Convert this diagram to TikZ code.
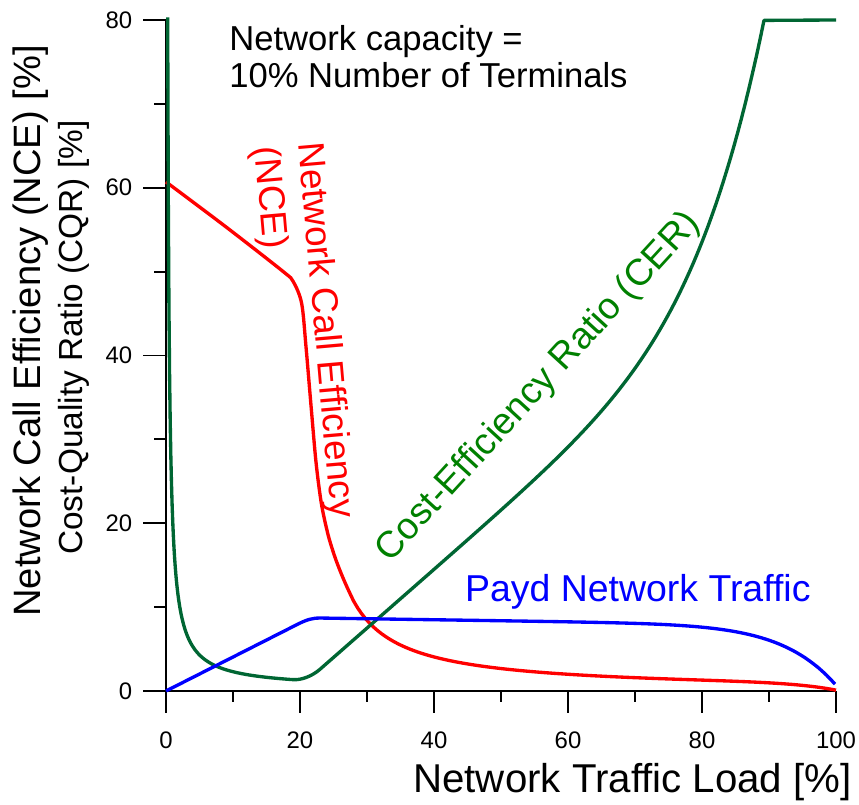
\documentclass[tikz,border=0pt]{standalone}
\usepackage{fontspec}
\setmainfont{Liberation Sans}
\definecolor{cergreen}{RGB}{0,102,51}
\definecolor{labelgreen}{RGB}{0,128,0}

\begin{document}
\begin{tikzpicture}[x=0.134cm,y=0.16775cm,
        axis/.style={line width=1.1pt},
        curve/.style={line width=1.9pt,line join=round},
        ticklabel/.style={inner sep=0pt,font=\fontsize{13.6}{16}\selectfont},
        biglabel/.style={inner sep=0pt,font=\fontsize{21.3}{25}\selectfont}]
    \useasboundingbox (-24.776,-13.472) rectangle (103.433,82.384);

    % axes
    \draw[axis] (0,80) -- (0,0) -- (100,0);
    \draw[axis] (0,0) -- (-3.43,0) (0,20) -- (-3.43,20) (0,40) -- (-3.43,40)
                (0,60) -- (-3.43,60) (0,80) -- (-3.43,80);
    \draw[axis] (0,10) -- (-1.79,10) (0,30) -- (-1.79,30) (0,50) -- (-1.79,50) (0,70) -- (-1.79,70);
    \draw[axis] (0,0) -- (0,-2.62) (20,0) -- (20,-2.62) (40,0) -- (40,-2.62)
                (60,0) -- (60,-2.62) (80,0) -- (80,-2.62) (100,0) -- (100,-2.62);
    \draw[axis] (10,0) -- (10,-1.31) (30,0) -- (30,-1.31) (50,0) -- (50,-1.31)
                (70,0) -- (70,-1.31) (90,0) -- (90,-1.31);

    \node[ticklabel,anchor=east] (y0) at (-5.0,0) {0};
    \node[ticklabel,anchor=east] (y20) at (-5.0,20) {20};
    \node[ticklabel,anchor=east] (y40) at (-5.0,40) {40};
    \node[ticklabel,anchor=east] (y60) at (-5.0,60) {60};
    \node[ticklabel,anchor=east] (y80) at (-5.0,80) {80};
    \node[ticklabel] (x0) at (0,-5.84) {0};
    \node[ticklabel] (x20) at (20,-5.84) {20};
    \node[ticklabel] (x40) at (40,-5.84) {40};
    \node[ticklabel] (x60) at (60,-5.84) {60};
    \node[ticklabel] (x80) at (80,-5.84) {80};
    \node[ticklabel] (x100) at (100,-5.84) {100};

    \node[biglabel,font=\fontsize{22.9}{26}\selectfont,anchor=base east] (xtitle) at (102.4,-12.12)
        {Network Traffic Load [\%]};
    \node[biglabel,font=\fontsize{21.7}{25}\selectfont,rotate=90,anchor=base west] (ytitle)
        at (-18.8,8.82) {Network Call Efficiency (NCE) [\%]};
    \node[biglabel,font=\fontsize{19}{23}\selectfont,rotate=90,anchor=base west] (ytitlecqr)
        at (-12.39,16.21) {Cost-Quality Ratio (CQR) [\%]};

    % note
    \node[inner sep=0pt,font=\fontsize{19.7}{21}\selectfont,align=left,anchor=north west] (capnote)
        at (9.4,79.4) {Network capacity =\\10\% Number of Terminals};

    % NCE
    \draw[curve,red] plot[smooth] coordinates {(0,60.7) (9,55.3) (17.5,50.0) (19.0,48.8) (20.25,46.2)
        (20.9,41.0) (21.7,33.5) (22.4,27.2) (23.2,22.3) (24.2,18.6) (25.2,16.0) (26.1,14.1)
        (27,12.42) (28,10.72)}
        -- plot[domain=28:100,samples=120] (\x,{78.5/(\x-20.68)-0.89*(\x/100)^16.3});
    \node[biglabel,font=\fontsize{21}{25}\selectfont,rotate=-85,align=left,anchor=north west,text=red]
        (nce) at (23.8,65.6) {Network Call Efficiency\\(NCE)};

    % CER
    \draw[curve,cergreen] plot[domain=0.25:19,samples=200] (\x,{20/\x+0.3})
        .. controls (20.2,1.29) and (21.8,1.76) .. (23,2.6)
        -- plot[domain=23:89.25,samples=120] (\x,{0.7*(\x-20)+0.5+33.5*((\x-20)/70)^7.2})
        -- (100,80);
    \node[biglabel,font=\fontsize{21.2}{25}\selectfont,rotate=47.5,text=labelgreen] (cer)
        at (55.6,36.2) {Cost-Efficiency Ratio (CER)};

    % paid traffic
    \draw[curve,blue] (0,0) -- (19.5,7.9) .. controls (21,8.51) and (21.8,8.7) .. (23,8.7)
        -- plot[domain=23:99.85,samples=120] (\x,{8.7-0.012*(\x-23)-7.1*(\x/100)^12.8});
    \node[biglabel,anchor=base west,text=blue] (payd) at (44.6,10.65) {Payd Network Traffic};
\end{tikzpicture}
\end{document}
